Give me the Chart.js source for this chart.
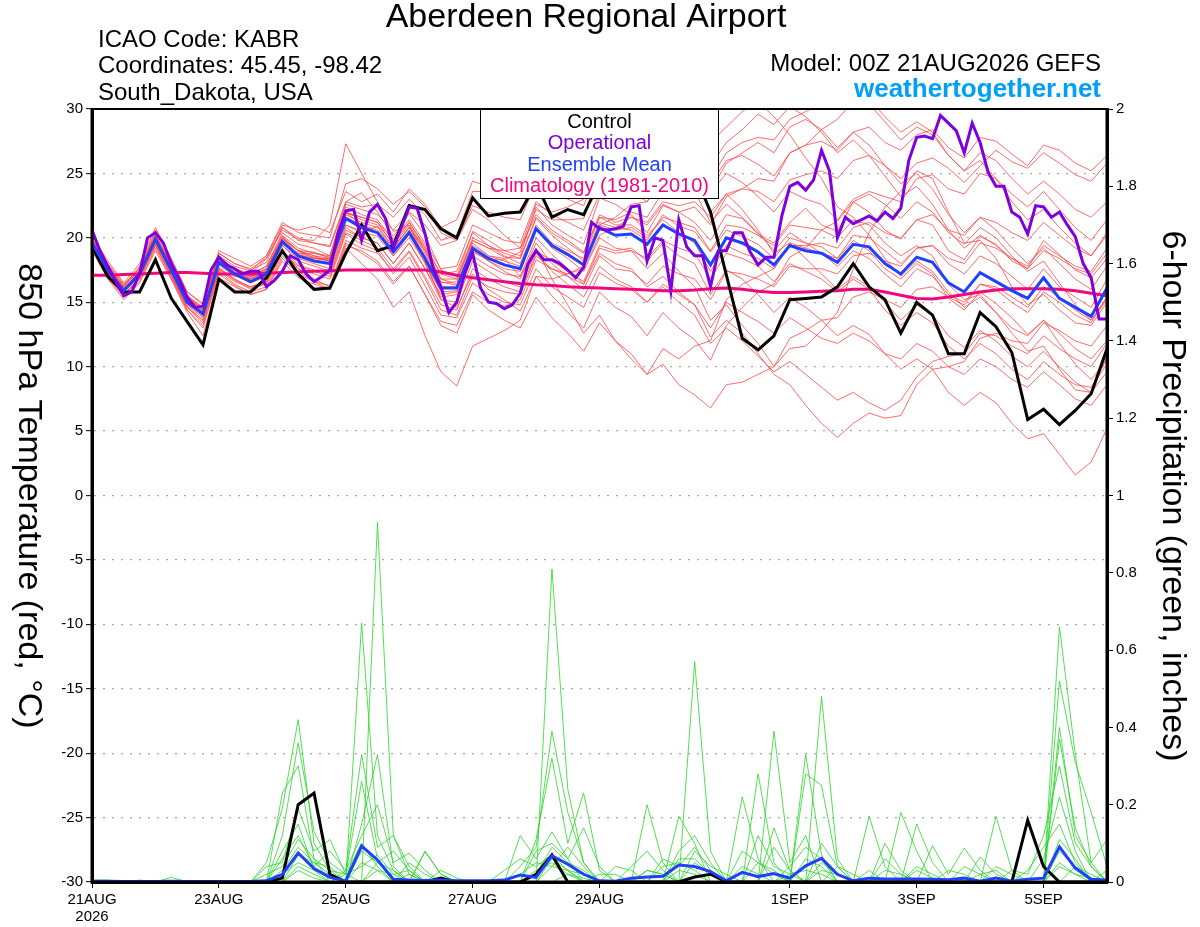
<!DOCTYPE html>
<html>
<head>
<meta charset="utf-8">
<script src="https://cdn.jsdelivr.net/npm/chart.js@4/dist/chart.umd.min.js"></script>
<style>
html, body { margin: 0; padding: 0; background: #fff; }
canvas { display: block; }
</style>
</head>
<body>
<canvas id="meteogram" width="1200" height="927"></canvas>
<script>
const FONT = '"Liberation Sans", Arial, Helvetica, sans-serif';

// x axis: hours from 00Z 21AUG2026
const tickHours = [0, 48, 96, 144, 192, 264, 312, 360];
const tickLabels = [['21AUG', '2026'], '23AUG', '25AUG', '27AUG', '29AUG', '1SEP', '3SEP', '5SEP'];

// 850 hPa temperature, 6-hourly (65 values)
const control = [19.3,17.0,15.8,15.8,18.3, 15.3,13.5,11.7,16.8,15.8, 15.8,16.9,19.0,17.2,16.0,
  16.1,18.8,21.0,19.0,19.4, 22.5,22.2,20.7,20.0,23.1, 21.7,21.9,22.0,24.2,21.6,
  22.2,21.8,24.3,25.0,25.5, 25.0,26.0,25.5,25.0,22.0, 17.1,12.2,11.3,12.4,15.2,
  15.3,15.4,16.2,18.0,16.2, 15.2,12.6,15.0,14.0,11.0, 11.0,14.2,13.1,11.1,5.9,
  6.7,5.5,6.6,7.9,11.4];
const ensMean = [19.6,17.5,15.9,17.2,19.9, 17.5,15.0,14.1,18.1,17.2, 16.6,17.2,19.7,18.6,18.2,
  18.0,21.5,20.8,20.4,18.9, 20.4,18.4,16.1,16.1,19.2, 18.4,17.9,17.6,20.7,19.4,
  18.7,17.9,20.8,20.2,20.3, 19.5,21.0,20.3,19.8,17.9, 20.0,19.6,18.9,17.9,19.4,
  19.0,18.8,18.1,19.5,19.3, 18.0,17.2,18.5,18.1,16.5, 15.8,17.3,16.6,15.9,15.3,
  16.9,15.3,14.6,13.9,16.1];
const climatology = [17.1,17.1,17.15,17.2,17.25, 17.3,17.3,17.25,17.2,17.2, 17.2,17.25,17.3,17.35,17.4,
  17.45,17.5,17.5,17.5,17.5, 17.5,17.5,17.35,17.1,16.9, 16.75,16.6,16.45,16.35,16.3,
  16.2,16.15,16.1,16.05,16.0, 15.95,15.9,15.9,15.95,16.05, 16.1,16.0,15.85,15.75,15.75,
  15.8,15.85,15.9,16.0,16.0, 15.8,15.55,15.3,15.25,15.4, 15.6,15.8,15.95,16.05,16.05,
  16.05,16.0,15.9,15.7,15.5];

// operational run, 3-hourly (129 values)
const operational = [20.6,19.0,17.8,16.6,15.5,15.8,17.2,20.0,20.4,19.6,18.0,16.8,15.4,14.6,14.7,17.5,
  18.5,17.9,17.6,17.2,17.4,17.4,16.2,16.7,17.4,18.6,18.3,17.2,16.6,17.0,17.5,20.3,
  22.1,22.2,19.8,22.0,22.6,21.5,19.2,20.8,22.4,22.3,20.3,17.7,16.2,14.2,15.0,17.2,
  18.8,16.1,15.0,14.9,14.5,14.8,15.7,18.0,19.0,18.3,18.3,18.0,17.5,16.9,17.7,21.2,
  20.7,20.6,20.7,20.9,22.4,22.5,18.2,20.0,19.8,15.9,21.4,19.3,18.6,18.6,16.2,19.0,
  19.0,20.4,20.4,18.9,17.9,18.5,18.5,21.7,24.0,24.3,23.7,24.5,26.8,25.2,20.0,21.6,
  21.1,21.4,21.7,21.3,22.0,21.5,22.3,26.0,27.8,27.9,27.7,29.5,28.9,28.3,26.6,28.9,
  27.4,25.1,24.0,24.0,22.0,21.6,20.3,22.5,22.4,21.6,22.0,21.0,20.1,18.0,16.9,13.7,
  13.7];

// ensemble members, 850 hPa temperature (6-hourly)
const member01 = [19.8,17.9,16.2,17.8,20.6, 18.2,15.6,14.3,18.4,17.6, 17.0,17.8,20.4,19.5,19.2,
  18.6,22.8,23.5,22.0,20.1, 21.9,20.2,17.5,17.0,20.5, 19.8,19.0,18.6,22.4,21.0,
  20.2,19.5,23.1,22.6,21.8, 20.4,22.5,22.0,21.2,19.8, 21.8,21.5,20.3,19.6,21.2,
  22.3,21.0,20.5,22.8,22.0, 20.6,19.9,21.4,21.0,19.0, 18.3,20.1,19.5,18.2,17.6,
  19.8,18.7,17.5,16.9,18.4];
const member02 = [19.2,17.0,15.5,16.8,19.5, 17.0,14.6,13.6,17.6,16.8, 16.0,16.5,19.0,17.6,17.2,
  16.8,20.3,19.5,19.0,17.2, 18.5,16.3,14.0,13.8,16.5, 15.6,15.0,14.8,17.6,16.2,
  15.4,14.6,17.3,16.5,16.0, 15.0,16.4,15.6,14.8,13.0, 15.0,14.2,13.5,12.6,13.8,
  13.0,12.2,11.8,12.6,12.0, 11.0,10.6,11.8,11.2,10.0, 9.4,10.6,10.0,9.0,8.4,
  9.6,8.6,7.5,7.0,8.6];
const member03 = [20.0,18.0,16.4,17.6,20.5, 18.3,15.8,14.8,18.8,18.0, 17.5,18.1,20.8,20.0,19.6,
  19.3,22.6,22.2,21.8,20.6, 22.0,21.0,19.4,19.8,22.5, 22.0,21.6,21.4,24.3,23.6,
  23.0,22.5,25.3,25.0,25.5, 24.8,26.2,25.8,25.6,24.2, 26.0,26.4,25.7,24.8,26.6,
  27.2,27.5,26.8,28.2,28.6, 27.4,26.8,28.0,28.4,27.0, 26.2,27.8,27.5,26.5,25.6,
  27.2,26.8,25.8,25.2,26.4];
const member04 = [19.5,17.3,16.0,17.0,19.7, 17.4,15.2,14.0,17.9,17.0, 16.8,17.5,19.5,18.8,18.8,
  18.5,21.0,20.4,20.9,19.3, 20.8,19.2,17.2,16.8,19.8, 19.2,18.5,18.4,21.5,20.2,
  19.2,18.2,21.2,20.8,20.6, 19.8,21.8,20.9,20.5,18.9, 20.6,20.1,19.5,18.4,20.0,
  19.6,19.3,18.4,19.8,19.0, 17.6,16.8,18.0,17.2,15.3, 14.4,15.8,14.9,13.8,12.5,
  13.6,11.8,10.2,9.0,10.5];
const member05 = [19.4,17.6,16.3,17.5,20.2, 17.8,15.3,14.5,18.3,17.5, 17.2,18.4,20.6,19.9,19.8,
  21.0,27.3,25.0,22.8,20.5, 21.0,18.2,15.2,14.6,17.2, 16.0,15.2,14.3,17.0,15.5,
  14.2,13.0,15.8,14.6,13.9, 12.4,14.2,13.0,12.1,10.5, 13.2,14.6,15.8,16.4,18.5,
  19.2,20.6,21.3,22.8,23.4, 22.6,21.5,22.8,22.0,20.4, 19.5,20.8,20.0,18.6,17.4,
  18.2,16.5,14.8,13.6,15.2];
const member06 = [19.0,16.8,15.2,16.5,19.0, 16.8,14.2,12.4,16.9,16.2, 15.6,16.0,18.2,16.9,16.4,
  16.0,19.4,19.0,18.2,16.6, 17.8,15.6,13.5,13.2,15.8, 15.0,14.7,15.2,18.3,17.6,
  17.2,17.6,20.2,20.8,21.6, 21.2,22.8,22.5,22.8,21.6, 23.4,23.8,23.6,22.8,24.5,
  24.9,25.2,24.6,26.0,26.4, 25.6,24.6,25.8,26.2,25.4, 24.3,25.6,26.8,25.9,25.4,
  26.6,25.8,24.9,24.4,25.8];
const member07 = [19.7,17.7,16.0,17.4,19.8, 17.7,15.2,14.2,18.0,17.3, 16.8,17.4,19.9,19.0,18.9,
  18.4,22.0,21.6,21.2,19.5, 21.0,19.0,16.6,16.3,19.6, 18.6,18.4,17.0,19.2,16.8,
  14.8,12.6,14.0,12.0,10.6, 9.4,11.4,10.6,11.6,12.0, 15.2,16.4,17.0,17.6,19.6,
  19.2,18.8,18.4,20.2,20.0, 19.0,18.0,19.2,19.4,18.0, 17.2,18.6,18.0,17.0,16.0,
  17.6,16.2,15.4,14.6,16.8];
const member08 = [19.9,17.8,16.0,17.3,20.2, 17.9,15.4,14.6,18.6,17.8, 17.4,18.6,21.0,20.6,20.9,
  20.4,23.6,22.8,23.4,22.0, 23.8,22.6,20.8,21.4,24.4, 24.0,23.8,24.6,27.0,26.2,
  26.8,25.6,28.4,27.6,27.2, 26.4,28.0,26.5,24.6,22.0, 23.4,22.2,20.6,18.8,19.6,
  18.4,17.2,16.0,17.0,16.2, 15.0,13.6,14.8,14.0,12.4, 11.5,12.8,12.0,10.8,10.0,
  11.2,10.0,8.8,8.0,9.6];
const member09 = [19.3,17.2,15.6,16.9,19.6, 17.2,14.7,13.6,17.6,16.7, 16.2,16.6,19.0,17.9,17.5,
  17.2,20.6,20.0,19.6,18.0, 19.6,17.6,15.2,15.0,18.2, 17.4,16.6,16.2,19.0,18.2,
  17.4,16.6,19.4,19.0,19.2, 18.2,19.6,18.6,18.0,15.6, 17.5,16.8,15.6,14.2,15.4,
  14.6,13.6,12.4,13.2,12.5, 11.0,9.8,10.6,9.8,8.0, 7.0,8.0,7.2,5.6,4.4,
  4.8,3.2,1.6,2.6,5.2];
const member10 = [19.6,17.5,16.1,17.2,19.9, 17.6,15.1,14.0,18.0,17.1, 16.5,17.0,19.4,18.4,18.0,
  17.6,21.0,20.5,20.1,18.6, 20.0,18.1,15.8,15.9,18.9, 18.3,18.3,18.9,22.2,21.4,
  21.4,21.5,24.6,24.5,25.2, 24.5,26.2,26.0,25.8,23.5, 25.0,24.3,23.2,22.0,23.6,
  23.0,22.6,21.4,23.0,23.6, 23.2,22.8,24.6,24.9,23.8, 23.4,25.0,24.6,23.4,22.4,
  23.6,22.2,20.8,19.8,21.4];
const member11 = [19.5,17.4,15.8,17.0,19.8, 17.3,14.9,14.1,18.2,17.4, 16.9,17.6,20.0,19.0,18.4,
  18.2,21.6,21.0,20.4,18.6, 20.3,18.0,15.4,15.6,18.6, 17.8,17.2,17.0,20.0,18.7,
  17.6,16.4,18.8,18.0,17.6, 16.2,17.0,15.8,14.8,12.3, 13.6,12.6,11.0,9.4,8.6,
  7.0,5.6,4.5,5.6,6.4, 6.0,6.2,8.6,9.8,10.0, 10.4,12.2,12.6,12.0,11.8,
  13.4,12.8,12.0,11.6,13.2];
const member12 = [19.8,17.6,16.0,17.4,20.0, 17.4,14.9,13.9,18.0,17.1, 16.6,17.3,19.8,18.7,18.4,
  18.3,21.9,21.6,21.2,19.9, 21.4,19.6,17.6,17.8,21.0, 20.4,19.8,19.6,22.8,21.8,
  21.2,20.6,23.4,23.2,23.6, 22.8,24.6,24.8,25.4,24.6, 26.6,27.4,27.8,27.6,29.2,
  29.8,30.4,30.2,31.0,30.4, 29.0,27.6,28.6,28.0,26.4, 25.2,26.6,26.0,24.6,23.4,
  24.4,23.4,22.2,21.6,22.8];
const member13 = [19.4,17.3,15.9,17.1,19.6, 17.3,14.8,13.8,17.7,16.8, 16.2,16.6,19.0,17.6,16.8,
  16.2,19.6,18.8,18.0,16.4, 17.8,15.6,13.2,12.6,15.6, 14.4,13.6,13.0,15.4,13.8,
  12.6,11.2,13.4,12.0,11.0, 9.4,10.2,8.6,7.8,6.8, 8.6,8.8,9.4,10.0,12.2,
  12.8,13.6,13.8,15.4,15.8, 15.2,14.6,16.0,16.2,15.4, 14.8,16.4,16.2,15.4,14.6,
  16.2,15.4,14.4,13.6,15.4];
const member14 = [20.2,18.2,16.5,18.0,20.8, 18.4,15.8,14.9,19.0,18.4, 17.8,18.6,21.2,20.4,20.2,
  20.0,24.2,24.6,23.8,22.6, 23.6,22.4,20.4,19.8,22.2, 21.4,20.2,19.2,21.8,20.6,
  19.8,18.9,21.6,21.0,21.0, 20.2,21.4,20.4,19.6,17.4, 19.4,18.8,18.4,17.6,19.4,
  19.4,19.6,19.2,20.8,21.2, 20.4,20.0,21.4,21.8,20.6, 20.2,21.6,21.2,20.4,19.8,
  21.2,20.2,19.2,18.6,20.2];
const member15 = [19.6,17.4,15.8,17.1,19.7, 17.4,14.9,14.2,18.2,17.2, 16.6,17.0,19.4,18.2,17.8,
  17.4,20.8,20.0,19.6,18.0, 19.6,17.6,15.6,15.8,19.0, 18.2,17.6,17.4,20.6,19.4,
  18.8,18.0,21.0,20.6,20.8, 20.0,21.6,21.2,20.8,19.0, 21.0,20.8,20.2,19.4,21.0,
  20.8,20.6,20.0,21.4,21.0, 19.6,18.6,19.4,18.6,16.4, 15.2,15.6,14.2,12.6,11.2,
  11.6,9.8,8.2,8.0,10.8];
const member16 = [19.6,17.6,16.0,17.3,20.1, 17.7,15.2,14.3,18.4,17.6, 17.0,17.6,20.0,19.0,18.6,
  18.4,22.0,21.4,21.0,19.6, 21.2,19.4,17.2,17.4,20.4, 19.4,18.6,18.0,21.0,19.6,
  19.0,18.4,21.6,21.4,22.0, 21.6,23.6,23.8,24.6,23.6, 25.8,26.6,27.4,26.6,28.6,
  29.2,28.4,27.0,28.2,27.2, 25.6,24.2,25.0,23.8,21.8, 20.4,21.6,20.6,19.2,18.0,
  19.2,18.0,16.8,16.0,17.8];
const member17 = [19.2,16.9,15.4,16.6,19.2, 16.8,14.4,13.0,17.2,16.3, 15.6,16.0,18.4,17.2,16.6,
  16.3,19.8,19.2,18.8,17.4, 18.9,16.8,14.4,14.0,17.0, 16.2,15.8,15.6,18.6,17.6,
  17.0,16.4,19.2,18.8,19.0, 18.4,19.8,19.2,18.8,16.8, 18.8,18.4,17.8,16.6,18.0,
  17.4,16.8,15.8,16.8,16.0, 14.4,13.2,14.2,13.4,11.6, 10.6,11.8,11.0,9.8,9.0,
  10.4,9.4,8.6,8.4,10.2];
const member18 = [19.9,17.9,16.3,17.7,20.3, 18.0,15.5,14.6,18.8,18.0, 17.6,18.4,20.8,19.8,19.6,
  19.4,22.8,22.4,22.6,21.6, 23.0,21.8,19.8,20.2,23.6, 23.6,23.4,23.8,26.6,25.8,
  25.4,24.8,27.6,26.8,26.4, 25.2,26.4,25.0,23.6,21.2, 22.6,21.6,20.4,19.0,20.4,
  19.6,18.8,17.8,19.0,18.4, 17.2,16.2,17.6,17.0,15.6, 15.0,16.4,16.0,15.0,14.2,
  15.8,15.0,14.0,13.4,15.4];
const member19 = [19.5,17.4,15.9,17.2,19.9, 17.5,15.0,14.0,18.0,17.1, 16.5,17.1,19.6,18.6,18.4,
  18.4,22.0,21.0,20.4,19.0, 20.6,18.6,16.2,16.2,19.2, 18.2,17.4,16.8,19.6,18.0,
  17.0,16.0,18.6,17.6,17.4, 16.4,17.8,17.2,16.8,15.2, 17.4,17.2,16.8,16.2,17.8,
  17.6,17.6,17.2,18.6,18.8, 18.2,17.8,19.2,19.4,18.4, 18.0,19.6,19.2,18.4,17.8,
  19.4,18.6,17.8,17.4,19.2];
const member20 = [19.7,17.6,16.1,17.4,20.0, 17.6,15.0,14.4,18.5,17.6, 17.2,17.8,20.2,19.2,18.8,
  18.6,22.4,21.8,21.4,19.8, 21.2,19.2,16.8,16.4,19.4, 18.6,18.2,17.8,20.8,19.2,
  18.4,17.4,20.0,19.2,19.0, 17.6,18.8,17.4,16.2,13.6, 14.8,13.2,11.8,10.0,11.4,
  11.6,12.8,14.2,17.6,20.4, 22.4,23.6,25.2,24.6,22.0, 19.6,19.8,18.4,16.2,14.8,
  15.6,14.4,13.4,13.2,15.0];
const member21 = [19.6,17.6,16.1,17.3,20.0, 17.6,15.1,14.2,18.2,17.3, 16.8,17.4,19.9,18.8,18.5,
  18.2,21.8,21.2,20.8,19.2, 20.8,18.8,16.5,16.6,19.8, 19.2,19.0,19.2,22.6,22.0,
  22.4,23.0,26.0,26.8,28.2, 28.6,30.4,30.8,29.6,27.4, 28.6,29.8,30.6,29.4,28.0,
  26.2,24.6,22.4,21.6,20.2, 18.4,17.0,18.2,17.4,15.8, 14.6,15.4,14.2,13.0,12.4,
  13.6,12.6,11.4,10.6,12.0];
const member22 = [19.4,17.2,15.6,16.8,19.4, 17.0,14.4,13.2,17.4,16.4, 15.8,16.2,18.6,17.4,16.6,
  16.0,19.2,18.0,16.8,14.6, 15.8,12.4,9.6,8.5,11.6, 12.2,12.8,13.6,17.0,16.8,
  17.2,17.8,21.0,21.6,22.6, 22.8,24.6,25.2,26.4,25.6, 27.4,28.4,29.6,28.8,30.2,
  29.4,28.2,26.6,27.6,26.4, 24.8,23.2,24.0,22.6,20.6, 19.2,20.2,19.4,18.4,17.6,
  19.0,18.4,17.6,17.2,18.8];
const member23 = [19.8,17.7,16.2,17.5,20.2, 17.8,15.3,14.4,18.4,17.5, 17.0,17.6,20.1,19.0,18.6,
  18.2,21.6,21.0,20.6,19.2, 20.8,19.0,16.8,16.8,20.0, 19.4,18.8,18.4,21.6,20.4,
  19.6,18.8,21.8,21.2,21.6, 21.0,22.6,22.0,22.4,21.0, 23.2,23.8,24.6,24.4,26.6,
  27.2,28.4,29.2,30.6,30.8, 29.4,28.2,29.0,28.2,26.4, 25.2,26.0,24.6,22.8,21.4,
  22.2,20.8,19.6,18.6,20.4];
const member24 = [19.3,17.1,15.6,16.9,19.4, 17.1,14.6,13.4,17.5,16.6, 16.1,16.4,18.8,17.8,17.4,
  17.0,20.4,19.8,19.2,17.6, 19.0,17.0,14.8,14.4,17.6, 16.8,16.2,15.8,18.8,17.4,
  16.4,15.4,17.8,16.8,16.2, 15.0,16.2,15.0,14.0,11.8, 13.0,12.0,10.8,9.6,10.4,
  9.4,8.4,7.4,8.0,7.2, 6.6,7.4,9.2,10.4,10.8, 11.0,12.6,12.4,11.6,11.0,
  12.4,11.4,10.6,10.0,11.8];
const tempMembers = [member01, member02, member03, member04, member05, member06, member07, member08,
  member09, member10, member11, member12, member13, member14, member15, member16,
  member17, member18, member19, member20, member21, member22, member23, member24];

// 6-hour precipitation (inches), 6-hourly
const precipControl = [0,0,0,0,0, 0,0,0,0,0, 0,0,0.01,0.20,0.23, 0.02,0,0,0,0, 0,0,0.01,0,0,
  0,0,0,0.02,0.07, 0,0,0,0,0, 0,0,0,0.013,0.02, 0,0,0,0,0, 0,0,0,0,0,
  0,0,0,0,0, 0,0,0,0,0.16, 0.04,0,0,0,0];
const precipMean = [0.002,0.002,0.001,0.001,0.001, 0.002,0.001,0.001,0.001,0.001, 0.001,0.003,0.02,0.075,0.035,
  0.012,0.003,0.093,0.057,0.007, 0.005,0.004,0.005,0.003,0.003, 0.003,0.005,0.018,0.012,0.068,
  0.046,0.02,0.003,0.002,0.01, 0.013,0.015,0.044,0.04,0.027, 0.003,0.025,0.014,0.022,0.01,
  0.042,0.061,0.02,0.003,0.01, 0.008,0.008,0.008,0.007,0.006, 0.01,0.002,0.01,0.002,0.007,
  0.01,0.091,0.036,0.007,0.005];

const precip01 = [0,0,0,0,0, 0,0,0,0,0, 0,.05,.19,.42,.10, .03,0,.67,.12,.03, 0,0,0,0,0,
  0,0,0,0,.81, .24,.05,0,0,0, 0,0,0,.57,.08, 0,0,0,0,0, 0,.48,.06,0,0,
  0,0,0,0,0, 0,0,0,0,0, 0,.66,.33,.05,0];
const precip02 = [0,0,0,0,0, 0,0,0,0,0, 0,0,.12,.36,.13, .05,.02,0,.93,.12, .04,0,0,0,0,
  0,0,0,.11,.32, .10,.23,.03,0,0, 0,0,.17,.10,0, 0,0,0,.39,.05, .12,0,0,0,0,
  0,0,0,0,0, 0,0,0,0,0, 0,.52,.31,.18,.04];
const precip03 = [0,0,0,0,0, 0,0,0,0,0, 0,0,.23,.30,.06, 0,.03,.33,.09,.12, .02,0,0,0,0,
  0,0,.12,.06,.13, .06,0,0,0,0, .20,.05,0,0,0, 0,0,.28,.05,0, .33,.07,0,0,0,
  .10,.03,0,0,0, 0,0,0,0,0, 0,.40,.12,.05,.11];
const precip04 = [.005,.005,0,0,0, 0,0,0,0,0, 0,.04,.05,.19,.08, .11,.02,.26,.06,0, 0,.08,.02,0,0,
  0,0,.04,.09,.39, .18,.05,0,0,.04, .08,.03,0,0,0, 0,.22,.06,0,0, .28,.25,.04,0,0,
  0,.18,.08,0,0, 0,0,0,0,0, 0,.37,.14,.04,0];
const precip05 = [0,0,0,0,0, .012,0,0,0,0, 0,0,.06,.12,.04, .08,.03,.12,.20,.05, .075,.03,0,0,0,
  0,0,0,.08,.10, .06,.14,.04,0,0, 0,0,.08,.12,.05, 0,0,0,.14,.03, 0,0,0,0,.17,
  .04,0,.15,.05,0, 0,0,.17,.03,0, .06,.22,.08,0,0];
const precip06 = [0,0,0,0,0, 0,0,0,0,0, 0,0,.03,.09,.05, .04,0,.08,.05,.03, 0,.078,.02,0,0,
  0,.03,.06,.04,.07, .03,0,0,.04,.03, 0,.06,.04,.09,.03, 0,.08,.05,.02,0, 0,.10,.04,0,0,
  0,0,0,.094,.02, .088,.03,0,0,.03, .09,.15,.05,0,0];
const precip07 = [0,0,0,0,0, 0,0,0,0,0, 0,0,0,.04,.02, 0,.02,.04,.07,.02, .03,0,0,0,0,
  0,0,.02,.05,.04, .09,.04,0,0,0, .03,.02,0,.05,.02, 0,0,.12,.04,.02, 0,0,.04,.02,0,
  .06,.02,0,0,0, 0,.065,.02,0,0, 0,.11,.06,0,0];
const precip08 = [0,0,0,0,0, 0,0,0,0,0, 0,0,.08,.15,.03, 0,0,.05,.03,0, .02,0,0,0,0,
  0,0,0,0,.06, .03,0,.02,.02,0, 0,0,0,.08,.04, .02,0,0,0,.04, .09,.06,0,0,0,
  0,0,.04,.02,0, 0,0,0,.03,.02, .12,.30,.10,.04,0];
const precip09 = [0,0,0,0,0, 0,0,0,0,0, 0,0,0,.07,.05, .02,0,.15,.33,.04, 0,0,0,0,0,
  0,0,0,.03,.05, .02,0,0,0,0, 0,0,.06,.06,.02, 0,0,0,.09,.03, 0,.05,.02,0,0,
  0,0,0,0,0, .04,.02,0,0,0, 0,.05,.02,0,.03];
const precip10 = [0,0,0,0,0, 0,0,0,0,0, 0,0,.02,.05,.03, .02,0,0,.05,.08, .03,0,0,0,0,
  0,0,0,0,.04, .03,.02,0,0,0, .03,.02,0,0,0, 0,.04,.02,0,0, 0,.03,.02,0,0,
  .03,.02,0,0,0, 0,0,.04,.02,0, 0,0,.04,.02,0];
const precip11 = [0,0,0,0,0, 0,0,0,0,0, 0,.02,.04,.11,.06, .03,.02,.10,.04,0, .05,.02,0,0,0,
  0,0,0,.02,.09, .05,.03,0,0,0, 0,.04,.05,.03,0, 0,0,.05,.03,0, .06,.04,0,0,.03,
  0,0,0,0,.03, .02,0,0,0,0, 0,.08,.04,0,0];
const precip12 = [0,0,0,.005,0, 0,0,0,0,0, 0,0,0,.03,.01, 0,0,0,.03,.02, 0,0,.03,.01,0,
  0,0,0,0,0, .02,.01,0,0,0, 0,0,.03,.02,0, 0,0,0,0,.02, .03,.02,0,0,0,
  0,0,.03,.01,0, 0,.02,.03,0,0, 0,.04,.02,.01,0];
const precipMembers = [precip01, precip02, precip03, precip04, precip05, precip06,
  precip07, precip08, precip09, precip10, precip11, precip12];

const COLORS = {
  control: '#000000',
  operational: '#7e00dc',
  mean: '#2040ff',
  climo: '#f0087c',
  member: '#ff4646',
  precip: '#2ad62a',
  site: '#00a0f8'
};

function series(values, stepHours) {
  return values.map((v, i) => ({ x: i * stepHours, y: v }));
}

function line(label, values, step, color, width, axis, order) {
  return {
    label, data: series(values, step), yAxisID: axis, order,
    borderColor: color, borderWidth: width, pointRadius: 0, tension: 0, fill: false
  };
}

let datasets = [
  line('Operational', operational, 3, COLORS.operational, 3, 'y', 1),
  line('Ensemble Mean', ensMean, 6, COLORS.mean, 3, 'y', 2),
  line('Control', control, 6, COLORS.control, 3, 'y', 3),
  line('Climatology', climatology, 6, COLORS.climo, 3, 'y', 4),
  line('Mean precip', precipMean, 6, COLORS.mean, 3, 'y1', 5),
  line('Control precip', precipControl, 6, COLORS.control, 3, 'y1', 6)
];
precipMembers.forEach((m, i) => datasets.push(line('precip ' + (i + 1), m, 6, COLORS.precip, 0.8, 'y1', 7)));
tempMembers.forEach((m, i) => datasets.push(line('member ' + (i + 1), m, 6, COLORS.member, 0.8, 'y', 8)));

const legendLines = [
  ['Control', COLORS.control],
  ['Operational', COLORS.operational],
  ['Ensemble Mean', COLORS.mean],
  ['Climatology (1981-2010)', COLORS.climo]
];

const decorations = {
  id: 'decorations',
  afterDatasetsDraw(chart) {
    const ctx = chart.ctx;
    const a = chart.chartArea;
    ctx.save();
    ctx.fillStyle = '#fff';
    ctx.fillRect(480, a.top, 238, 89);
    ctx.strokeStyle = '#000';
    ctx.lineWidth = 1;
    ctx.strokeRect(480.5, a.top + 0.5, 238, 89);
    ctx.font = '20px ' + FONT;
    ctx.textAlign = 'center';
    ctx.textBaseline = 'middle';
    legendLines.forEach(([text, color], i) => {
      ctx.fillStyle = color;
      ctx.fillText(text, 599.5, 122 + i * 21.5);
    });
    ctx.restore();
  },
  afterDraw(chart) {
    const ctx = chart.ctx;
    const a = chart.chartArea;
    ctx.save();
    // frame
    ctx.strokeStyle = '#000';
    ctx.lineWidth = 2;
    ctx.beginPath();
    ctx.moveTo(a.left, a.top);
    ctx.lineTo(a.right, a.top);
    ctx.stroke();
    ctx.lineWidth = 3;
    ctx.beginPath();
    ctx.moveTo(a.left, a.top - 1);
    ctx.lineTo(a.left, a.bottom);
    ctx.lineTo(a.right, a.bottom);
    ctx.lineTo(a.right, a.top - 1);
    ctx.stroke();

    ctx.fillStyle = '#000';
    ctx.textBaseline = 'middle';
    ctx.textAlign = 'center';
    ctx.font = '34px ' + FONT;
    ctx.fillText('Aberdeen Regional Airport', 586, 18);

    ctx.textAlign = 'left';
    ctx.font = '24px ' + FONT;
    ctx.fillText('ICAO Code: KABR', 98, 40);
    ctx.fillText('Coordinates: 45.45, -98.42', 98, 66);
    ctx.fillText('South_Dakota, USA', 98, 93);

    ctx.textAlign = 'right';
    ctx.fillText('Model: 00Z 21AUG2026 GEFS', 1101, 64);
    ctx.fillStyle = COLORS.site;
    ctx.font = 'bold 26px ' + FONT;
    ctx.fillText('weathertogether.net', 1101, 90);

    // axis titles, both read top to bottom
    ctx.fillStyle = '#000';
    ctx.font = '34px ' + FONT;
    ctx.textAlign = 'center';
    ctx.save();
    ctx.translate(28, 496);
    ctx.rotate(Math.PI / 2);
    ctx.fillText('850 hPa Temperature (red, \u00B0C)', 0, 0);
    ctx.restore();
    ctx.save();
    ctx.translate(1172, 496);
    ctx.rotate(Math.PI / 2);
    ctx.fillText('6-hour Precipitation (green, inches)', 0, 0);
    ctx.restore();
    ctx.restore();
  }
};

new Chart(document.getElementById('meteogram'), {
  type: 'line',
  data: { datasets },
  options: {
    responsive: false,
    animation: false,
    events: [],
    layout: { padding: { top: 109, left: 0, right: 0, bottom: 0 } },
    plugins: { legend: { display: false }, tooltip: { enabled: false } },
    scales: {
      x: {
        type: 'linear', min: 0, max: 384,
        afterBuildTicks: scale => { scale.ticks = tickHours.map(v => ({ value: v })); },
        afterFit: scale => { scale.height = 45; },
        grid: { drawOnChartArea: false, drawTicks: true, tickLength: 6, tickColor: '#000', tickWidth: 1 },
        border: { color: '#000', width: 3 },
        ticks: {
          autoSkip: false, maxRotation: 0, padding: 3, color: '#000',
          font: { family: FONT, size: 15, lineHeight: 1.15 },
          callback: (v, i) => tickLabels[i]
        }
      },
      y: {
        position: 'left', min: -30, max: 30,
        afterFit: scale => { scale.width = 92; },
        ticks: { stepSize: 5, color: '#000', padding: 3, font: { family: FONT, size: 15 } },
        grid: { color: '#a8a8a8', lineWidth: 1.3, tickColor: '#000', tickLength: 6, tickWidth: 1, tickBorderDash: [] },
        border: { color: '#000', width: 3, dash: [2, 7] }
      },
      y1: {
        position: 'right', min: 0, max: 2,
        afterFit: scale => { scale.width = 93; },
        ticks: {
          stepSize: 0.2, color: '#000', padding: 3, font: { family: FONT, size: 15 },
          callback: v => String(Number(v.toFixed(1)))
        },
        grid: { drawOnChartArea: false, tickColor: '#000', tickLength: 6, tickWidth: 1 },
        border: { color: '#000', width: 3 }
      }
    }
  },
  plugins: [decorations]
});
</script>
</body>
</html>
